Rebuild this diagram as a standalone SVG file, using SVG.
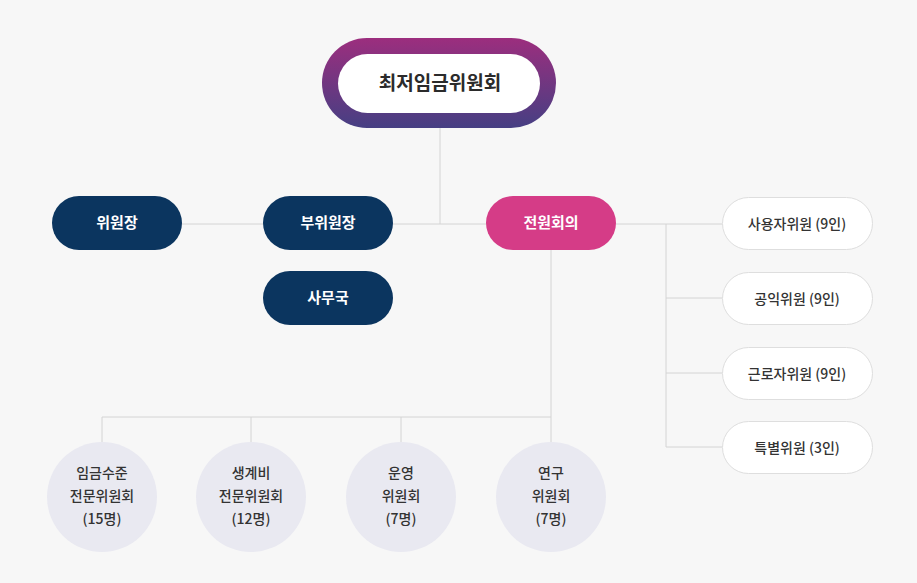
<svg xmlns="http://www.w3.org/2000/svg" width="917" height="583" viewBox="0 0 917 583">
<defs>
<linearGradient id="g" x1="0" y1="0" x2="0" y2="1"><stop offset="0" stop-color="#9c2e7e"/><stop offset="1" stop-color="#463f83"/></linearGradient>
<style>
text{font-family:"Noto Sans CJK KR","Noto Sans",sans-serif;text-anchor:middle;font-weight:bold}
.d{fill:#0b355f}.d+text,.p+text{fill:#fff;font-size:15px}
.p{fill:#d53c87}
.w{fill:#fff;stroke:#dedede}
.w+text{fill:#333;font-size:14px;font-weight:500}
.c{fill:#e9e9f1}
.ct{fill:#333;font-size:14px;font-weight:500}
.l{stroke:#d4d4d4;fill:none;stroke-width:1}
</style>
</defs>
<rect width="917" height="583" fill="#f7f7f7"/>
<g id="connectors" class="l">
<path d="M440 128V224M182 224H486M616 224H722M666 224V447M666 298H722M666 373H722M666 447H722M551 250V417M102 417H551M102 417V442M251 417V442M401 417V442M551 417V442"/>
</g>
<g id="top"><rect x="322" y="38" width="234" height="90" rx="45" fill="url(#g)"/><rect x="338" y="54" width="202" height="59" rx="29.5" fill="#fff"/><text x="440" y="90" font-size="19" fill="#2b2b2b">최저임금위원회</text></g>
<g id="n1"><rect class="d" x="52" y="196" width="130" height="54" rx="27"/><text x="117" y="228">위원장</text></g>
<g id="n2"><rect class="d" x="263" y="196" width="130" height="54" rx="27"/><text x="328" y="228">부위원장</text></g>
<g id="n3"><rect class="d" x="263" y="271" width="130" height="54" rx="27"/><text x="328" y="303">사무국</text></g>
<g id="n4"><rect class="p" x="486" y="196" width="130" height="54" rx="27"/><text x="551" y="228">전원회의</text></g>
<g id="r1"><rect class="w" x="722.5" y="197.5" width="150" height="52" rx="26"/><text x="797" y="229">사용자위원 (9인)</text></g>
<g id="r2"><rect class="w" x="722.5" y="272.5" width="150" height="52" rx="26"/><text x="797" y="304">공익위원 (9인)</text></g>
<g id="r3"><rect class="w" x="722.5" y="347.5" width="150" height="52" rx="26"/><text x="797" y="379">근로자위원 (9인)</text></g>
<g id="r4"><rect class="w" x="722.5" y="421.5" width="150" height="52" rx="26"/><text x="797" y="453">특별위원 (3인)</text></g>
<g id="c1"><circle class="c" cx="102" cy="497" r="55"/><text class="ct" x="102" y="478">임금수준</text><text class="ct" x="102" y="501">전문위원회</text><text class="ct" x="102" y="524">(15명)</text></g>
<g id="c2"><circle class="c" cx="251" cy="497" r="55"/><text class="ct" x="251" y="478">생계비</text><text class="ct" x="251" y="501">전문위원회</text><text class="ct" x="251" y="524">(12명)</text></g>
<g id="c3"><circle class="c" cx="401" cy="497" r="55"/><text class="ct" x="401" y="478">운영</text><text class="ct" x="401" y="501">위원회</text><text class="ct" x="401" y="524">(7명)</text></g>
<g id="c4"><circle class="c" cx="551" cy="497" r="55"/><text class="ct" x="551" y="478">연구</text><text class="ct" x="551" y="501">위원회</text><text class="ct" x="551" y="524">(7명)</text></g>
</svg>
